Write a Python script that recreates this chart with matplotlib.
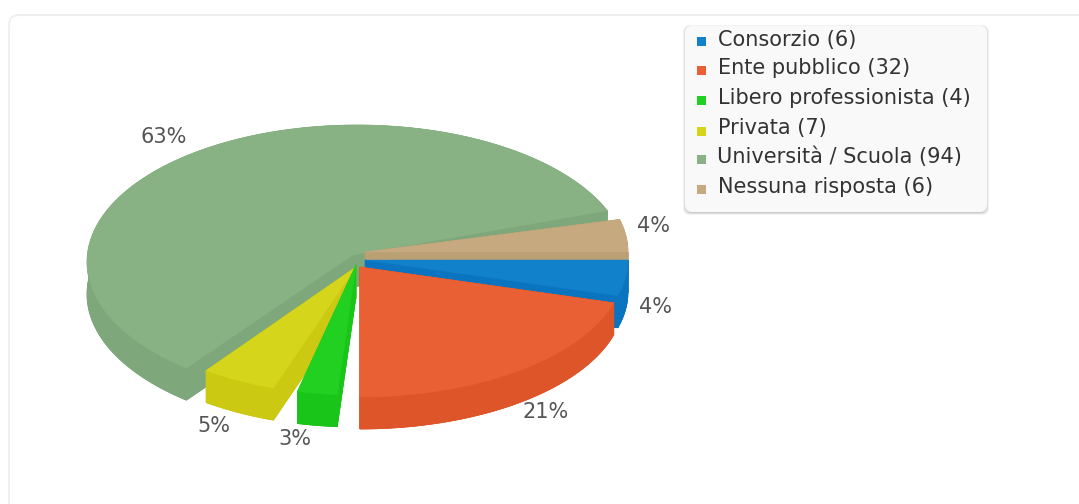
import numpy as np
from matplotlib import pyplot as plt
from matplotlib.patches import FancyBboxPatch, Polygon, Rectangle

categories = ["Consorzio", "Ente pubblico", "Libero professionista", "Privata", "Università / Scuola", "Nessuna risposta"]
counts = [6, 32, 4, 7, 94, 6]
top_colors = ["#1181CB", "#E86033", "#22D022", "#D5D51B", "#88B283", "#C6A97F"]
wall_colors = ["#0A74C0", "#DD5529", "#19C519", "#CBC912", "#7EA87B", "#BBA074"]

# per slice look: apex, rim centre, rim radii, and how far the drawn edges lean away from the true angle
apexes = [(365, 260), (360, 267), (356, 265), (356, 267), (353, 255), (365, 252)]
rim_centres = [(365, 260), (360, 267), (356, 265), (356, 267), (357, 262), (365, 252)]
rim_radii = [(263, 130), (264, 130), (255, 130), (255, 128), (270, 137), (263, 130)]
angle_lean = [(0, 1.5), (1.5, -1.8), (2.4, 1.8), (7.4, 7.6), (10.8, -7.5), (0, 0)]
depth = 32
draw_order = [4, 5, 0, 3, 2, 1]

label_pos = [(655, 307), (546, 412), (295, 439), (214, 426), (164, 137), (654, 226)]
legend_x = [718, 718, 718, 718, 717, 718]
legend_y = [40, 68, 98, 128, 157, 187]
marker_y = [41.5, 70, 100, 131, 159, 189]


def slice_rim(i, start, end):
	t = np.radians(np.linspace(start + angle_lean[i][0], end + angle_lean[i][1], 120))
	cx, cy = rim_centres[i]
	rx, ry = rim_radii[i]
	return np.column_stack([cx + rx * np.cos(t), cy + ry * np.sin(t)])


def draw_slice(ax, i, start, end, z):
	rim = slice_rim(i, start, end)
	apex = np.array(apexes[i], dtype=float)
	down = np.array([0, depth])
	wall = wall_colors[i]
	# wall first: the lowered copy, then the rim band and both cut faces
	outline = np.vstack([apex, rim])
	ax.add_patch(Polygon(outline + down, fc=wall, ec=wall, lw=0.5, zorder=z))
	band = np.vstack([rim, (rim + down)[::-1]])
	ax.add_patch(Polygon(band, fc=wall, ec=wall, lw=0.5, zorder=z))
	for p in (rim[0], rim[-1]):
		face = np.array([apex, p, p + down, apex + down])
		ax.add_patch(Polygon(face, fc=wall, ec=wall, lw=0.5, zorder=z))
	ax.add_patch(Polygon(outline, fc=top_colors[i], ec=top_colors[i], lw=0.3, zorder=z + 0.5))


def main():
	fig = plt.figure(figsize=(10.79, 5.04), dpi=100)
	ax = fig.add_axes([0, 0, 1, 1])
	ax.set_xlim(0, 1079)
	ax.set_ylim(504, 0)
	ax.axis("off")

	# card behind the chart, runs off the right and bottom
	ax.add_patch(FancyBboxPatch((9, 15), 1200, 600, boxstyle="round,pad=0,rounding_size=10", fc="white", ec="#EFEFEF", lw=1.5, zorder=1))

	total = sum(counts)
	edges = np.concatenate([[0], np.cumsum(counts)]) / total * 360
	for n, i in enumerate(draw_order):
		draw_slice(ax, i, edges[i], edges[i + 1], 2 + n)

	for i, c in enumerate(counts):
		x, y = label_pos[i]
		ax.text(x, y, "%d%%" % round(c / total * 100), fontsize=15, color="#555555", ha="center", va="center", zorder=20)

	# legend box
	for grow, a in ((3, 0.05), (2, 0.07), (1, 0.1)):
		ax.add_patch(FancyBboxPatch((685 - grow + 1, 26 - grow + 2), 302 + 2 * grow - 2, 186 + 2 * grow - 2, boxstyle="round,pad=0,rounding_size=7", fc="black", ec="none", alpha=a, zorder=20))
	ax.add_patch(FancyBboxPatch((685, 26), 302, 186, boxstyle="round,pad=0,rounding_size=7", fc="#F9F9F9", ec="none", zorder=21))
	for i, name in enumerate(categories):
		ax.add_patch(Rectangle((697, marker_y[i] - 4.5), 9, 9, fc=top_colors[i], ec="none", zorder=22))
		ax.text(legend_x[i], legend_y[i], "%s (%d)" % (name, counts[i]), fontsize=15, color="#333333", ha="left", va="center", zorder=22)

	fig.savefig("out.png", dpi=100)


if __name__ == '__main__':
	main()
